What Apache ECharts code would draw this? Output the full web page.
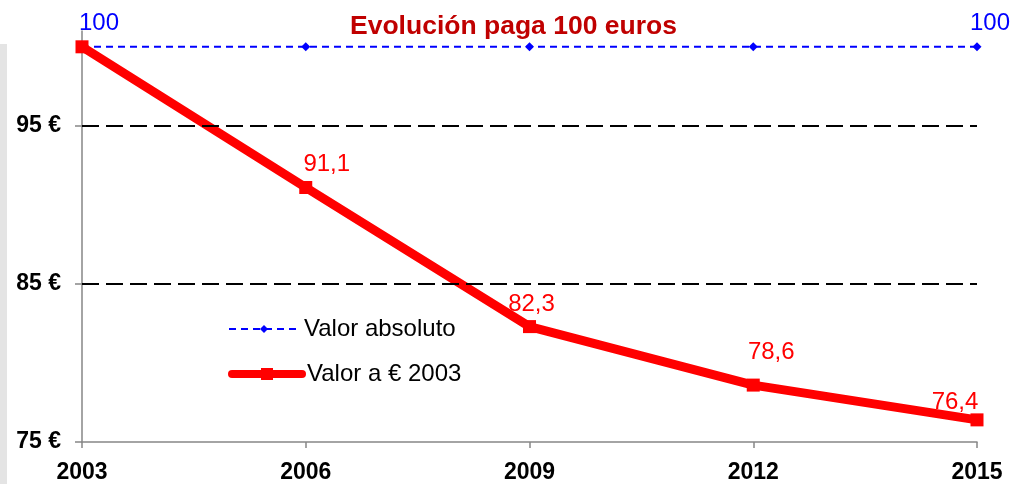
<!DOCTYPE html>
<html>
<head>
<meta charset="utf-8">
<title>Evolución paga 100 euros</title>
<script src="https://cdn.jsdelivr.net/npm/echarts@6/dist/echarts.min.js"></script>
<style>
  html, body { margin: 0; padding: 0; background: #ffffff; }
  #chart { width: 1013px; height: 484px; }
</style>
</head>
<body>
<div id="chart"></div>
<script>
// Years on the horizontal axis
const years = ['2003', '2006', '2009', '2012', '2015'];
// Nominal value of a 100-euro payment
const valorAbsoluto = [100, 100, 100, 100, 100];
// Same payment in constant 2003 euros
const valorReal = [100, 91.1, 82.3, 78.6, 76.4];
// Labelled levels on the value axis
const yTicks = [75, 85, 95];
// Dashed reference lines
const gridLevels = [85, 95];

const FONT = '"Liberation Sans", Arial, sans-serif';

// Label placement per point (pixel nudges relative to the marker)
const realLabelOffsets = [[0, 0], [21, 0], [2, 1], [18, -9], [-22, 6]];
const absLabelOffsets = [[17, -2], [0, 0], [0, 0], [0, 0], [13, -2]];

const fmtComma = v => v.toFixed(1).replace('.', ',');

const absData = valorAbsoluto.map((v, i) => ({
  value: v,
  label: {
    show: i === 0 || i === valorAbsoluto.length - 1,
    offset: absLabelOffsets[i]
  }
}));

const realData = valorReal.map((v, i) => ({
  value: v,
  label: { show: i > 0, offset: realLabelOffsets[i] }
}));

const legendText = { fontFamily: FONT, fontSize: 24, color: '#000000' };

const chart = echarts.init(document.getElementById('chart'), null, { renderer: 'canvas' });

chart.setOption({
  animation: false,
  backgroundColor: '#ffffff',
  textStyle: { fontFamily: FONT },
  title: {
    text: 'Evolución paga 100 euros',
    left: 350,
    top: 13,
    padding: 0,
    textStyle: { fontFamily: FONT, fontSize: 26.5, fontWeight: 'bold', color: '#c00000' }
  },
  graphic: [{
    type: 'rect',
    left: 0,
    top: 44,
    shape: { width: 7, height: 440 },
    style: { fill: '#e4e4e4' },
    silent: true,
    z: -1
  }],
  legend: [{
    data: [{ name: 'Valor absoluto' }],
    orient: 'vertical',
    left: 228,
    top: 317,
    padding: 0,
    itemWidth: 70,
    itemHeight: 10,
    itemGap: 7,
    lineStyle: { width: 2, type: [7, 5], color: '#0000ff' },
    textStyle: legendText,
    selectedMode: false
  }, {
    data: [{ name: 'Valor a € 2003' }],
    orient: 'vertical',
    left: 228,
    top: 362,
    padding: 0,
    itemWidth: 70,
    itemHeight: 15,
    itemGap: 5,
    lineStyle: { width: 8, cap: 'round', color: '#ff0000' },
    textStyle: legendText,
    selectedMode: false
  }],
  grid: { left: 82, right: 36, top: 31, bottom: 41, containLabel: false },
  xAxis: {
    type: 'category',
    data: years,
    boundaryGap: false,
    axisLine: { lineStyle: { color: '#868686', width: 1.5 } },
    axisTick: { show: true, length: 6, alignWithLabel: true, lineStyle: { color: '#868686', width: 1.5 } },
    axisLabel: { margin: 19, fontFamily: FONT, fontSize: 23, fontWeight: 'bold', color: '#000000' },
    splitLine: { show: false }
  },
  yAxis: {
    type: 'value',
    min: 75,
    max: 101,
    interval: 10,
    axisLine: { show: true, lineStyle: { color: '#868686', width: 1.5 } },
    axisTick: { show: true, length: 7, customValues: yTicks, lineStyle: { color: '#868686', width: 1.5 } },
    axisLabel: {
      customValues: yTicks,
      margin: 21,
      padding: [6, 0, 0, 0],
      fontFamily: FONT,
      fontSize: 23,
      fontWeight: 'bold',
      color: '#000000',
      formatter: v => v + ' €'
    },
    splitLine: { show: false }
  },
  series: [{
    name: 'Valor absoluto',
    type: 'line',
    data: absData,
    z: 2,
    symbol: 'diamond',
    symbolSize: 9,
    itemStyle: { color: '#0000ff' },
    lineStyle: { color: '#0000ff', width: 2, type: [7, 5] },
    label: {
      position: 'top',
      distance: 5,
      fontFamily: FONT,
      fontSize: 24,
      color: '#0000ff',
      formatter: p => String(p.value)
    },
    markLine: {
      silent: true,
      symbol: ['none', 'none'],
      label: { show: false },
      lineStyle: { color: '#000000', width: 2, type: [17, 7] },
      data: gridLevels.map(v => ({ yAxis: v }))
    }
  }, {
    name: 'Valor a € 2003',
    type: 'line',
    data: realData,
    z: 3,
    symbol: 'rect',
    symbolSize: 13,
    itemStyle: { color: '#ff0000' },
    lineStyle: { color: '#ff0000', width: 9, cap: 'round' },
    label: {
      position: 'top',
      distance: 5,
      fontFamily: FONT,
      fontSize: 24,
      color: '#ff0000',
      formatter: p => fmtComma(p.value)
    }
  }]
});
</script>
</body>
</html>
